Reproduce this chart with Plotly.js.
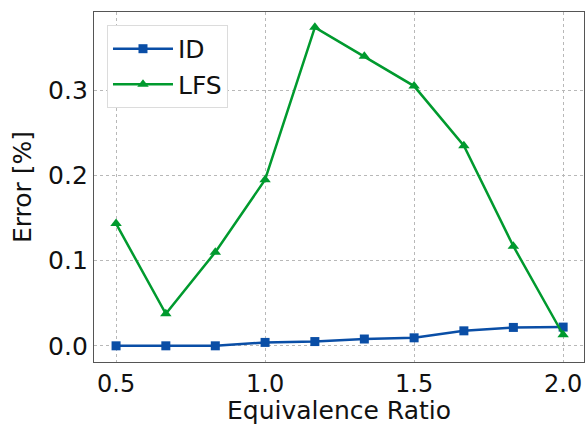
<!DOCTYPE html>
<html>
<head>
<meta charset="utf-8">
<script src="https://cdn.plot.ly/plotly-3.0.1.min.js"></script>
<style>html,body{margin:0;padding:0;background:#fff;}#chart{width:585px;height:425px;}</style>
</head>
<body>
<div id="chart"></div>
<script>
const phi = [0.5, 0.667, 0.833, 1.0, 1.167, 1.333, 1.5, 1.667, 1.833, 2.0];
const errID = [0.000, 0.000, 0.000, 0.004, 0.005, 0.008, 0.0094, 0.0176, 0.0216, 0.022];
const errLFS = [0.1435, 0.0376, 0.110, 0.195, 0.374, 0.340, 0.305, 0.235, 0.117, 0.013];
const xTicks = [0.5, 1.0, 1.5, 2.0];
const xTickText = ['0.5', '1.0', '1.5', '2.0'];
const yTicks = [0.0, 0.1, 0.2, 0.3];
const yTickText = ['0.0', '0.1', '0.2', '0.3'];

const font = 'DejaVu Sans, sans-serif';
const traces = [
  {x: phi, y: errID, name: 'ID', mode: 'lines+markers',
   line: {color: '#0a4ea6', width: 2.5},
   marker: {symbol: 'square', size: 9, color: '#0a4ea6'}},
  {x: phi, y: errLFS, name: 'LFS', mode: 'lines+markers',
   line: {color: '#009a2e', width: 2.5},
   marker: {symbol: 'triangle-up', size: 10, color: '#009a2e'}}
];
const axisCommon = {
  showline: true, mirror: true, linecolor: '#555', linewidth: 1.2,
  showgrid: true, gridcolor: '#b8b8b8', griddash: 'dot', gridwidth: 1,
  zeroline: false, ticks: ''
};
const layout = {
  width: 585, height: 425,
  margin: {l: 94, r: 1, t: 12, b: 63},
  paper_bgcolor: '#fff', plot_bgcolor: '#fff',
  showlegend: true,
  legend: {x: 0.0265, y: 0.963, xanchor: 'left', yanchor: 'top',
    bgcolor: '#fff', bordercolor: '#dcdcdc', borderwidth: 1,
    itemwidth: 60, tracegroupgap: 0,
    font: {family: font, size: 25, color: '#111'}},
  xaxis: Object.assign({}, axisCommon, {
    range: [0.426, 2.07], tickvals: xTicks, ticktext: xTickText,
    tickfont: {family: font, size: 24, color: '#111'},
    title: {text: 'Equivalence Ratio', font: {family: font, size: 25, color: '#111'}, standoff: 6}
  }),
  yaxis: Object.assign({}, axisCommon, {
    range: [-0.019, 0.392], tickvals: yTicks, ticktext: yTickText,
    tickfont: {family: font, size: 25, color: '#111'},
    title: {text: 'Error [%]', font: {family: font, size: 25, color: '#111'}, standoff: 9}
  })
};
Plotly.newPlot('chart', traces, layout, {displayModeBar: false, staticPlot: true});
</script>
</body>
</html>
